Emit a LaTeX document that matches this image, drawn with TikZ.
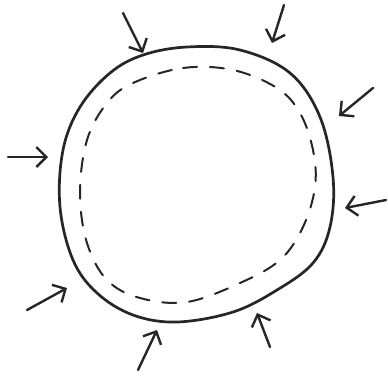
\documentclass[tikz,border=0pt]{standalone}
\usetikzlibrary{arrows.meta}
\begin{document}
\begin{tikzpicture}[x=1pt,y=-1pt,
  pen/.style={line width=2.7pt, draw=black!85, line cap=round, line join=round},
  dashpen/.style={line width=2pt, draw=black!85, dash pattern=on 14pt off 13pt, line cap=round},
  push/.style={pen, line width=2.4pt, -{Straight Barb[length=10pt,width=20pt,line width=2.4pt]}}]
\useasboundingbox (0,0) rectangle (388,376);
\fill[white] (0,0) rectangle (388,376);
% outer wall
\draw[pen] plot[smooth cycle, tension=0.6] coordinates {
 (143,55) (187,47) (240,50) (290,73) (320,117) (333,177) (330,227)
 (313,263) (277,290) (233,312) (177,322) (133,315) (97,293) (73,260)
 (60,207) (63,150) (80,107) (110,73)};
% inner dashed
\draw[dashpen] plot[smooth cycle, tension=0.6] coordinates {
 (133,83) (183,68) (233,70) (277,88) (300,113) (313,150) (315,187)
 (303,227) (280,260) (240,283) (187,302) (140,298) (107,280) (87,243)
 (80,193) (87,140) (107,103)};
% arrows
\coordinate (t1) at (123,13);  \coordinate (h1) at (143,53);
\coordinate (t2) at (284,5);   \coordinate (h2) at (272,43);
\coordinate (t3) at (373,88);  \coordinate (h3) at (339,116);
\coordinate (t4) at (386,200); \coordinate (h4) at (345,208);
\coordinate (t5) at (8,157);   \coordinate (h5) at (48,157);
\coordinate (t6) at (27,310);  \coordinate (h6) at (67,288);
\coordinate (t7) at (138,370); \coordinate (h7) at (157,330);
\coordinate (t8) at (270,347); \coordinate (h8) at (257,313);
\foreach \i in {1,...,8} \draw[push] (t\i) -- (h\i);
\end{tikzpicture}
\end{document}
